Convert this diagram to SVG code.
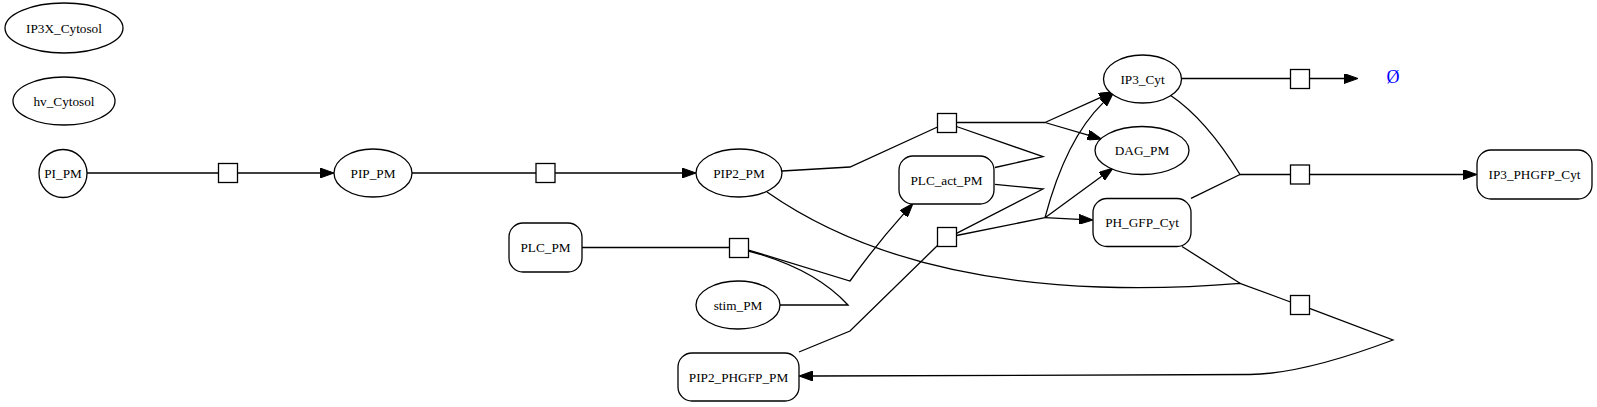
<svg xmlns="http://www.w3.org/2000/svg" width="1597" height="407" viewBox="0 0 1597 407">
<style>
.n{fill:#fff;stroke:#000;stroke-width:1.3}
.t{font-family:"Liberation Serif","Times New Roman",serif;font-size:13.25px;text-anchor:middle;fill:#000}
.e{fill:none;stroke:#000;stroke-width:1.3}
.a{marker-end:url(#ah)}
.sq{fill:#fff;stroke:#000;stroke-width:1.3}
</style>
<defs>
<marker id="ah" viewBox="0 0 14 10" refX="0" refY="5" markerWidth="14" markerHeight="10" markerUnits="userSpaceOnUse" orient="auto">
<path d="M0,0 L14,5 L0,10 z" fill="#000" stroke="#000" stroke-width="1"/>
</marker>
</defs>
<rect width="1597" height="407" fill="#fff"/>
<g id="connectors">
<path class="e" d="M87,173 L218.5,173"/>
<path class="e a" d="M237.5,173 L320,173"/>
<path class="e" d="M412,173 L536,173"/>
<path class="e a" d="M555,173 L682,173"/>
<path class="e" d="M782,171 L850,167 L937.5,127"/>
<path class="e" d="M956.5,122.5 L1045,122.5"/>
<path class="e a" d="M1045,122.5 L1100.2,97.7"/>
<path class="e a" d="M1045,122.5 L1088.1,135.1"/>
<path class="e" d="M995,167.5 L1043,156.7 L956.5,126.5"/>
<path class="e" d="M995,184.3 L1043,189 L956.5,233.3"/>
<path class="e" d="M956.5,235.5 L1045,217.7"/>
<path class="e a" d="M1045,217.7 C1055,180 1072,133 1103.1,102.9"/>
<path class="e a" d="M1045,217.7 L1101.7,176.3"/>
<path class="e a" d="M1045,217.7 L1079,219.4"/>
<path class="e" d="M799,352 L850,331 L937.5,245.5"/>
<path class="e" d="M582,247.5 L729.5,247.5"/>
<path class="e a" d="M748.5,250 L850,281 Q875,246 903.7,213.9"/>
<path class="e" d="M780,305 L848,305 C825,280 790,262 748.5,251"/>
<path class="e" d="M767,192 C850,250 960,282 1100,287 C1170,289 1220,285 1240,283.3 L1290.5,302"/>
<path class="e" d="M1182,246.5 L1240,283.3"/>
<path class="e a" d="M1309.5,308.3 L1393,340 C1340,360 1290,374 1250,374.5 L813,376"/>
<path class="e" d="M1182,78.5 L1290.5,78.5"/>
<path class="e a" d="M1309.5,78.5 L1344,78.5"/>
<path class="e" d="M1170,95 C1200,115 1225,150 1240,174.5 L1290.5,174.5"/>
<path class="e" d="M1191,198.3 L1240,174.5"/>
<path class="e a" d="M1309.5,174.5 L1463,174.5"/>
</g>
<g id="reactions">
<rect class="sq" x="218.5" y="163.5" width="19" height="19"/>
<rect class="sq" x="536" y="163.5" width="19" height="19"/>
<rect class="sq" x="937.5" y="113.5" width="19" height="19"/>
<rect class="sq" x="937.5" y="227.5" width="19" height="19"/>
<rect class="sq" x="729.5" y="238.5" width="19" height="19"/>
<rect class="sq" x="1290.5" y="295.5" width="19" height="19"/>
<rect class="sq" x="1290.5" y="69.5" width="19" height="19"/>
<rect class="sq" x="1290.5" y="165" width="19" height="19"/>
</g>
<g id="IP3X_Cytosol"><ellipse class="n" cx="64" cy="28" rx="59" ry="25"/><text class="t" x="64" y="32.5">IP3X_Cytosol</text></g>
<g id="hv_Cytosol"><ellipse class="n" cx="64" cy="101" rx="51" ry="24"/><text class="t" x="64" y="105.5">hv_Cytosol</text></g>
<g id="PI_PM"><circle class="n" cx="63" cy="173.5" r="24"/><text class="t" x="63" y="178">PI_PM</text></g>
<g id="PIP_PM"><ellipse class="n" cx="373" cy="173" rx="39" ry="24"/><text class="t" x="373" y="177.5">PIP_PM</text></g>
<g id="PIP2_PM"><ellipse class="n" cx="739" cy="173" rx="43" ry="24"/><text class="t" x="739" y="177.5">PIP2_PM</text></g>
<g id="PLC_PM"><rect class="n" x="509" y="223" width="73" height="49" rx="14"/><text class="t" x="545.5" y="252">PLC_PM</text></g>
<g id="stim_PM"><ellipse class="n" cx="738" cy="305" rx="42" ry="24"/><text class="t" x="738" y="309.5">stim_PM</text></g>
<g id="PIP2_PHGFP_PM"><rect class="n" x="678" y="353" width="121" height="48" rx="14"/><text class="t" x="738.5" y="381.5">PIP2_PHGFP_PM</text></g>
<g id="PLC_act_PM"><rect class="n" x="899" y="156" width="95" height="48" rx="14"/><text class="t" x="946.5" y="184.5">PLC_act_PM</text></g>
<g id="IP3_Cyt"><ellipse class="n" cx="1142.5" cy="79" rx="39" ry="24"/><text class="t" x="1142.5" y="83.5">IP3_Cyt</text></g>
<g id="DAG_PM"><ellipse class="n" cx="1142" cy="150.5" rx="47" ry="24"/><text class="t" x="1142" y="155">DAG_PM</text></g>
<g id="PH_GFP_Cyt"><rect class="n" x="1093" y="198.5" width="98" height="48" rx="14"/><text class="t" x="1142" y="227">PH_GFP_Cyt</text></g>
<g id="IP3_PHGFP_Cyt"><rect class="n" x="1477" y="150" width="115" height="49" rx="14"/><text class="t" x="1534.5" y="179">IP3_PHGFP_Cyt</text></g>
<g id="empty"><text x="1393" y="83" style="font-family:'Liberation Serif','Times New Roman',serif;font-size:18px;text-anchor:middle;fill:#0000ff">Ø</text></g>
</svg>
